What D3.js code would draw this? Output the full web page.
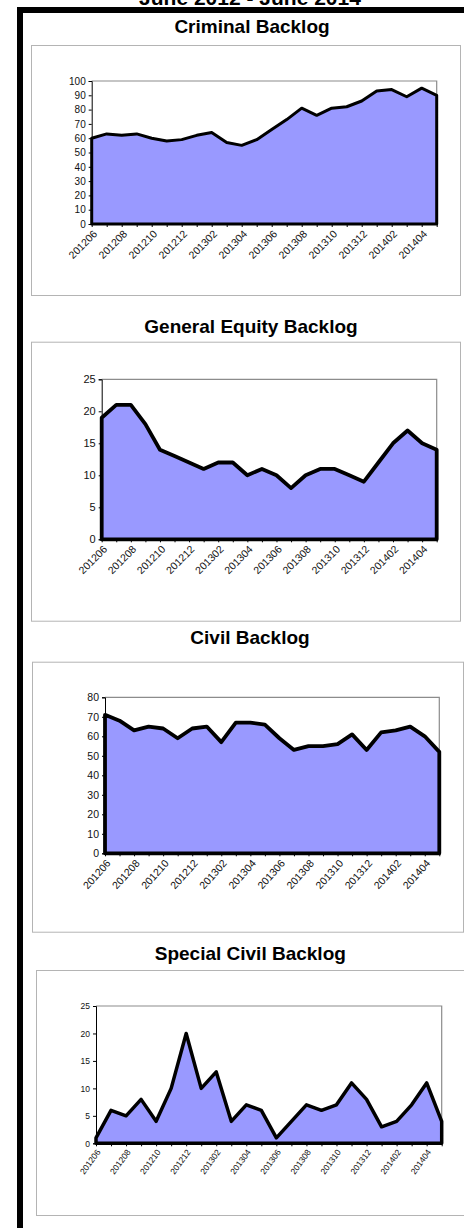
<!DOCTYPE html>
<html>
<head>
<meta charset="utf-8">
<script src="https://cdn.jsdelivr.net/npm/d3@7"></script>
<style>
  html, body { margin: 0; padding: 0; background: #fff; }
  svg { display: block; font-family: "Liberation Sans", Arial, sans-serif; }
</style>
</head>
<body>
<svg id="chart" width="464" height="1228"></svg>
<script>
// ---- data ----
const pageTitle = "June 2012 - June 2014";
const months = ["201206","201207","201208","201209","201210","201211","201212",
  "201301","201302","201303","201304","201305","201306","201307","201308","201309",
  "201310","201311","201312","201401","201402","201403","201404","201405"];
const criminalBacklog = [60,63,62,63,60,58,59,62,64,57,55,59,66,73,81,76,81,82,86,93,94,89,95,90];
const generalEquityBacklog = [19,21,21,18,14,13,12,11,12,12,10,11,10,8,10,11,11,10,9,12,15,17,15,14];
const civilBacklog = [71,68,63,65,64,59,64,65,57,67,67,66,59,53,55,55,56,61,53,62,63,65,60,52];
const specialCivilBacklog = [1,6,5,8,4,10,20,10,13,4,7,6,1,4,7,6,7,11,8,3,4,7,11,4];
const criminalTicks = [0,10,20,30,40,50,60,70,80,90,100];
const generalEquityTicks = [0,5,10,15,20,25];
const civilTicks = [0,10,20,30,40,50,60,70,80];
const specialCivilTicks = [0,5,10,15,20,25];
const monthLabels = months.filter((m, i) => i % 2 === 0);

const svg = d3.select("#chart");

// page frame
svg.append("rect").attr("x", 20).attr("y", 10).attr("width", 600).attr("height", 1400)
  .attr("fill", "none").attr("stroke", "#000").attr("stroke-width", 6);

svg.append("text").attr("x", 250).attr("y", 4.5).attr("text-anchor", "middle")
  .attr("font-size", 21).attr("font-weight", "bold").text(pageTitle);

function drawChart(cfg) {
  const g = svg.append("g");
  g.append("text").attr("x", cfg.titleX).attr("y", cfg.titleY).attr("text-anchor", "middle")
    .attr("font-size", 19).attr("font-weight", "bold").attr("fill", "#000").text(cfg.title);
  g.append("rect").attr("x", cfg.box[0] + 0.5).attr("y", cfg.box[1] + 0.5)
    .attr("width", cfg.box[2] - cfg.box[0]).attr("height", cfg.box[3] - cfg.box[1])
    .attr("fill", "#fff").attr("stroke", "#b4b4b4").attr("stroke-width", 1);

  const [L, T, R, B] = cfg.plot;
  const x = d3.scalePoint().domain(months).range([L, R]).padding(0);
  const y = d3.scaleLinear().domain([0, d3.max(cfg.ticks)]).range([B, T]);

  // plot area frame (gray top/right)
  g.append("path").attr("d", `M${L},${T}H${R}V${B}`).attr("fill", "none")
    .attr("stroke", "#8c8c8c").attr("stroke-width", 1.2);

  // area
  const area = d3.area().x((d, i) => x(months[i])).y0(y(0)).y1(d => y(d));
  const pts = cfg.values;
  const outline = "M" + x(months[0]) + "," + y(0) + "L" +
    pts.map((v, i) => x(months[i]) + "," + y(v)).join("L") +
    "L" + x(months[months.length - 1]) + "," + y(0) + "Z";
  g.append("path").attr("d", area(pts)).attr("fill", "#9999ff");
  g.append("path").attr("d", outline).attr("fill", "none").attr("stroke", "#000")
    .attr("stroke-width", cfg.sw).attr("stroke-linejoin", "round");

  // y axis
  const ya = g.append("g").attr("transform", `translate(${L},0)`)
    .call(d3.axisLeft(y).tickValues(cfg.ticks).tickSize(3).tickPadding(3).tickFormat(d3.format("d")));
  ya.select(".domain").attr("stroke", "#000").attr("stroke-width", 1);
  ya.selectAll("text").attr("font-size", cfg.yfs).attr("fill", "#111")
    .attr("font-family", "Liberation Sans, Arial, sans-serif");

  // x axis
  const xa = g.append("g").attr("transform", `translate(0,${B})`)
    .call(d3.axisBottom(x).tickSize(3).tickFormat(d => monthLabels.includes(d) ? d : ""));
  xa.select(".domain").remove();
  xa.selectAll("text").attr("font-size", cfg.xfs).attr("fill", "#111")
    .attr("font-family", "Liberation Sans, Arial, sans-serif")
    .attr("text-anchor", "end").attr("dy", "0.35em")
    .attr("transform", `translate(${cfg.xdx},${cfg.xdy}) rotate(${cfg.rot})`)
    .attr("y", 0).attr("x", 0);
}

drawChart({ title: "Criminal Backlog", titleX: 252, titleY: 32.5, box: [31, 45, 460, 295],
  plot: [91.7, 81, 436.7, 224], ticks: criminalTicks, values: criminalBacklog,
  sw: 3, yfs: 10, xfs: 10.5, rot: -45, xdx: 3, xdy: 8 });
drawChart({ title: "General Equity Backlog", titleX: 251, titleY: 333, box: [31, 341.7, 460, 620.7],
  plot: [101.7, 379.3, 436.7, 539.3], ticks: generalEquityTicks, values: generalEquityBacklog,
  sw: 3.8, yfs: 11, xfs: 10.5, rot: -45, xdx: 3, xdy: 8 });
drawChart({ title: "Civil Backlog", titleX: 250, titleY: 644, box: [32, 661.7, 463, 931.7],
  plot: [105, 697.3, 439.3, 853.3], ticks: civilTicks, values: civilBacklog,
  sw: 3.8, yfs: 10.5, xfs: 10.5, rot: -48, xdx: 3, xdy: 8 });
drawChart({ title: "Special Civil Backlog", titleX: 250.3, titleY: 960, box: [36, 970, 470, 1215],
  plot: [96, 1006, 441.7, 1143.3], ticks: specialCivilTicks, values: specialCivilBacklog,
  sw: 3.5, yfs: 8.5, xfs: 8.5, rot: -54, xdx: 2, xdy: 7 });
</script>
</body>
</html>
